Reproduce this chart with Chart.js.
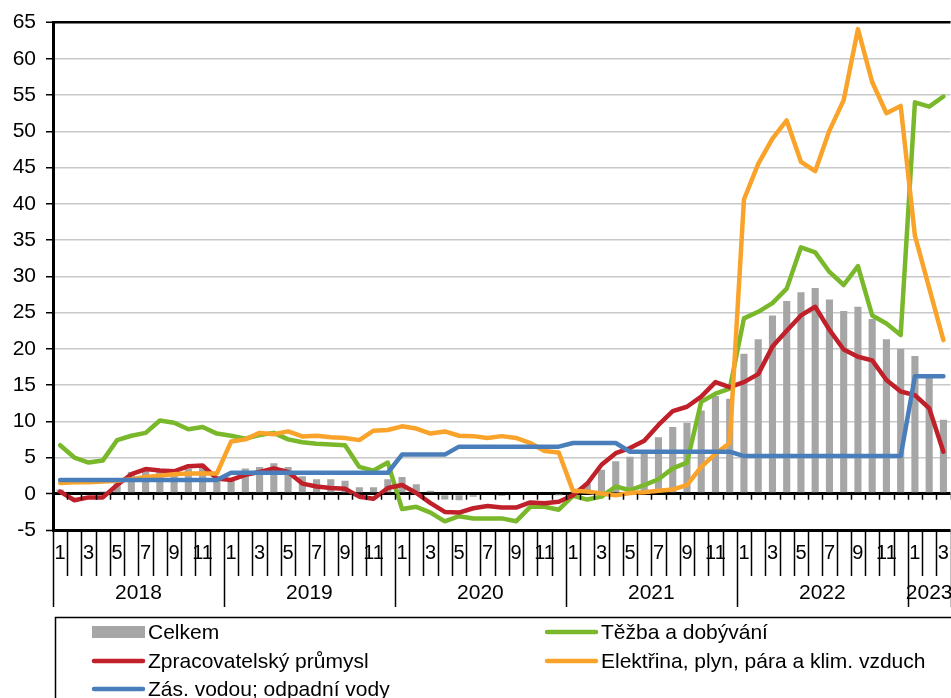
<!DOCTYPE html>
<html>
<head>
<meta charset="utf-8">
<script src="https://cdn.jsdelivr.net/npm/chart.js@4/dist/chart.umd.min.js"></script>
<style>
  html, body { margin: 0; padding: 0; overflow: hidden; background: #fff; }
  #wrap { width: 960px; height: 698px; }
</style>
</head>
<body>
<div id="wrap"><canvas id="chart" width="960" height="698"></canvas></div>
<script>
// years shown on the lower axis row and how many months each one has
var years = ['2018', '2019', '2020', '2021', '2022', '2023'];
var monthsInYear = [12, 12, 12, 12, 12, 3];

// y axis range
var yMin = -5, yMax = 65, yStep = 5;

// series, Jan 2018 .. Mar 2023 (%)
var celkem = [
  0.6, -0.2, 0.2, 0.3, 1.4, 3.0, 3.3, 3.0, 3.1, 3.5, 3.7, 2.1,
  1.9, 3.5, 3.7, 4.2, 3.7, 2.4, 2.0, 2.0, 1.8, 0.9, 0.9, 2.0,
  2.3, 1.3, 0.4, -0.8, -0.9, -0.4, -0.2, -0.3, -0.2, 0.2, 0.0, -0.1,
  0.2, 1.4, 3.3, 4.5, 5.1, 5.9, 7.8, 9.2, 9.8, 11.5, 13.5, 13.1,
  19.3, 21.3, 24.6, 26.6, 27.8, 28.4, 26.8, 25.2, 25.8, 24.1, 21.3, 20.0,
  19.0, 16.0, 10.2
];
var tezba = [
  6.7, 5.0, 4.3, 4.6, 7.4, 8.0, 8.4, 10.1, 9.8, 8.9, 9.2, 8.3,
  8.0, 7.6, 8.1, 8.4, 7.5, 7.1, 6.9, 6.8, 6.7, 3.7, 3.2, 4.3,
  -2.1, -1.8, -2.6, -3.8, -3.1, -3.4, -3.4, -3.4, -3.8, -1.8, -1.8, -2.2,
  -0.3, -0.8, -0.4, 1.0, 0.5, 1.2, 2.0, 3.5, 4.3, 12.7, 13.8, 14.5,
  24.2, 25.1, 26.3, 28.3, 34.0, 33.3, 30.6, 28.8, 31.4, 24.6, 23.5, 21.9,
  54.0, 53.4, 54.8
];
var zpracovatelsky = [
  0.3, -0.9, -0.5, -0.5, 1.2, 2.7, 3.4, 3.2, 3.1, 3.8, 3.9, 2.1,
  1.9, 2.6, 3.0, 3.5, 3.0, 1.4, 1.0, 0.8, 0.7, -0.4, -0.7, 0.8,
  1.2, 0.1, -1.3, -2.5, -2.6, -2.0, -1.7, -1.9, -1.9, -1.2, -1.3, -1.1,
  -0.2, 1.4, 4.0, 5.6, 6.3, 7.3, 9.5, 11.4, 12.0, 13.4, 15.4, 14.7,
  15.4, 16.5, 20.3, 22.5, 24.6, 25.8, 22.6, 19.9, 18.9, 18.4, 15.7, 14.1,
  13.6, 11.8, 5.8
];
var elektrina = [
  1.5, 1.6, 1.6, 1.7, 1.8, 2.0, 2.3, 2.5, 2.7, 2.8, 2.8, 2.8,
  7.2, 7.5, 8.4, 8.2, 8.6, 7.9, 8.0, 7.8, 7.7, 7.4, 8.7, 8.8,
  9.3, 9.0, 8.3, 8.6, 8.0, 7.95, 7.7, 7.95, 7.7, 7.0, 5.9, 5.7,
  0.4, 0.3, 0.05, -0.2, 0.1, 0.2, 0.4, 0.6, 1.2, 3.7, 5.5, 7.0,
  40.6, 45.5, 49.0, 51.5, 45.8, 44.5, 50.1, 54.3, 64.1, 56.8, 52.5, 53.5,
  35.6, 28.4, 21.2
];
var vodou = [
  1.9, 1.9, 1.9, 1.9, 1.9, 1.9, 1.9, 1.9, 1.9, 1.9, 1.9, 1.9,
  2.9, 2.9, 2.9, 2.9, 2.9, 2.9, 2.9, 2.9, 2.9, 2.9, 2.9, 2.9,
  5.4, 5.4, 5.4, 5.4, 6.5, 6.5, 6.5, 6.5, 6.5, 6.5, 6.5, 6.5,
  7.0, 7.0, 7.0, 7.0, 5.8, 5.8, 5.8, 5.8, 5.8, 5.8, 5.8, 5.8,
  5.2, 5.2, 5.2, 5.2, 5.2, 5.2, 5.2, 5.2, 5.2, 5.2, 5.2, 5.2,
  16.2, 16.2, 16.2
];

var FONT = "'Liberation Sans', Arial, sans-serif";

// month numbers for every category
var labels = [];
for (var yi = 0; yi < years.length; yi++) {
  for (var m = 1; m <= monthsInYear[yi]; m++) labels.push(String(m));
}

function lineSet(label, data, color, order) {
  return {
    type: 'line', label: label, data: data, order: order,
    borderColor: color, backgroundColor: color, borderWidth: 4.5,
    pointRadius: 0, tension: 0, borderJoinStyle: 'round', borderCapStyle: 'round'
  };
}

// draws the two-row category axis and the legend box
var axisExtras = {
  id: 'axisExtras',
  afterDraw: function(chart) {
    var ctx = chart.ctx, xs = chart.scales.x, ys = chart.scales.y;
    var n = labels.length;
    var w = xs.width / n;
    var y0 = ys.getPixelForValue(0);
    var yb = ys.getPixelForValue(yMin);
    ctx.save();
    ctx.strokeStyle = '#000';
    ctx.lineWidth = 1.5;
    var yearStarts = [0];
    for (var k = 0; k < monthsInYear.length; k++) yearStarts.push(yearStarts[k] + monthsInYear[k]);
    for (var i = 0; i <= n; i++) {
      var px = Math.round(xs.getPixelForValue(i) - w / 2) + 0.5;
      var isYear = yearStarts.indexOf(i) >= 0;
      ctx.beginPath();
      ctx.moveTo(px, y0); ctx.lineTo(px, y0 + 6);
      ctx.moveTo(px, yb); ctx.lineTo(px, isYear ? yb + 77 : yb + 46);
      ctx.stroke();
    }
    ctx.fillStyle = '#000';
    ctx.font = '21px ' + FONT;
    ctx.textAlign = 'center';
    ctx.textBaseline = 'middle';
    for (var j = 0; j < years.length; j++) {
      var a = xs.getPixelForValue(yearStarts[j]) - w / 2;
      var b = xs.getPixelForValue(yearStarts[j + 1]) - w / 2;
      ctx.fillText(years[j], (a + b) / 2, yb + 63);
    }

    // legend
    ctx.lineWidth = 1.5;
    ctx.strokeRect(55.5, 617.5, 1000, 200);
    var colX = [92, 545], rowY = [632, 661, 689];
    ctx.textAlign = 'left';
    chart.data.datasets.forEach(function(ds, idx) {
      var sx = colX[idx % 2], sy = rowY[Math.floor(idx / 2)];
      if (ds.type === 'bar') {
        ctx.fillStyle = ds.backgroundColor;
        ctx.fillRect(sx, sy - 6, 53, 12);
      } else {
        ctx.strokeStyle = ds.borderColor;
        ctx.lineWidth = 4.5;
        ctx.lineCap = 'round';
        ctx.beginPath();
        ctx.moveTo(sx + 2, sy); ctx.lineTo(sx + 51, sy);
        ctx.stroke();
      }
      ctx.fillStyle = '#000';
      ctx.fillText(ds.label, sx + 56, sy + 1);
    });
    ctx.restore();
  }
};

new Chart(document.getElementById('chart').getContext('2d'), {
  type: 'bar',
  data: {
    labels: labels,
    datasets: [
      { type: 'bar', label: 'Celkem', data: celkem, order: 4,
        backgroundColor: '#a6a6a6', barPercentage: 0.5, categoryPercentage: 1.0 },
      lineSet('Těžba a dobývání', tezba, '#78b82a', 3),
      lineSet('Zpracovatelský průmysl', zpracovatelsky, '#c0202a', 2),
      lineSet('Elektřina, plyn, pára a klim. vzduch', elektrina, '#f9a32a', 1),
      lineSet('Zás. vodou; odpadní vody', vodou, '#4a7ebb', 0)
    ]
  },
  options: {
    responsive: false,
    animation: false,
    layout: { padding: { top: 22, left: 0, right: 3, bottom: 88 } },
    plugins: { legend: { display: false }, tooltip: { enabled: false } },
    scales: {
      x: {
        grid: { display: false, drawTicks: false },
        border: { display: false },
        ticks: {
          autoSkip: false, maxRotation: 0, minRotation: 0, padding: 11,
          color: '#000', font: { family: FONT, size: 20 },
          callback: function(v, i) { return i % 2 === 0 ? labels[i] : ''; }
        },
        afterFit: function(s) { s.height = 80; }
      },
      y: {
        min: yMin, max: yMax,
        ticks: { stepSize: yStep, padding: 10, color: '#000', font: { family: FONT, size: 21 } },
        border: { display: true, color: '#000', width: 3 },
        grid: {
          color: function(c) {
            var v = c.tick.value;
            return (v === 0 || v === yMin || v === yMax) ? '#000' : '#c8c8c8';
          },
          lineWidth: function(c) {
            var v = c.tick.value;
            if (v === 0 || v === yMin) return 3;
            if (v === yMax) return 2.5;
            return 1.5;
          },
          tickColor: '#000', tickLength: 7, tickWidth: 1.5
        },
        afterFit: function(s) { s.width = 53; }
      }
    }
  },
  plugins: [axisExtras]
});
</script>
</body>
</html>
